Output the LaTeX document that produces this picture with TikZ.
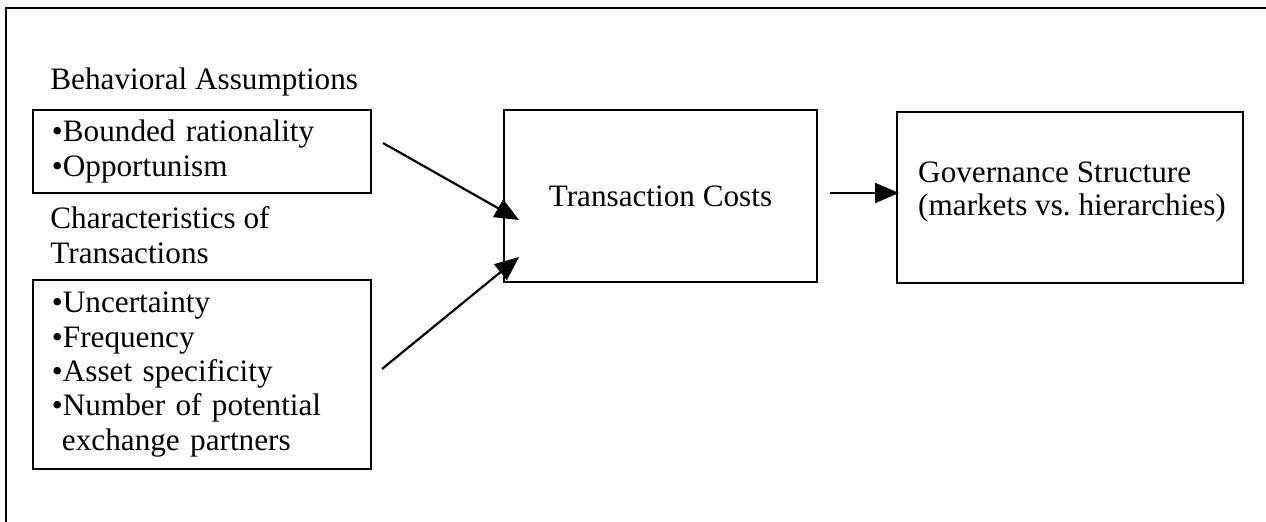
\documentclass[tikz,border=0pt]{standalone}
\usepackage{fontspec}
\setmainfont{Liberation Serif}
\usetikzlibrary{arrows.meta}
\tikzset{
  frame/.style={line width=1pt},
  box/.style={draw, line width=1.25pt, rectangle, inner sep=0pt, font=\fontsize{15.6}{17.2}\selectfont},
  listbox/.style={box, align=left, text width=#1},
  txt/.style={inner sep=0pt, align=left, font=\fontsize{15.6}{17.2}\selectfont},
  heading/.style={txt, anchor=west},
  arr/.style={line width=1.1pt, -{Triangle[length=12pt,width=10pt]}}
}
\begin{document}
\begin{tikzpicture}[x=0.5pt,y=-0.5pt]
  \useasboundingbox (0,0) rectangle (1266,522);
  % outer frame (top and left edges)
  \draw[frame] (1266,8) -- (6,8) -- (6,522);

  % left column: headings and lists
  \node[heading] (hb) at (50,82) {Behavioral Assumptions};
  \node[listbox=150pt, minimum width=169pt, minimum height=41.5pt] (ba) at (202,151.5)
    {•Bounded rationality\\•Opportunism};
  \node[heading] (hc) at (50,235) {Characteristics of\\Transactions};
  \node[listbox=150pt, minimum width=169pt, minimum height=94.5pt] (ct) at (202,374.5)
    {•Uncertainty\\•Frequency\\•Asset specificity\\•Number of potential\\\hspace*{5pt}exchange partners};

  % centre and right boxes
  \node[box, minimum width=156.5pt, minimum height=86pt] (tc) at (660.5,196)
    {\raisebox{-2.5pt}{Transaction Costs}};
  \node[box, minimum width=173pt, minimum height=85.5pt] (gs) at (1070,197.5) {};
  \node[txt, font=\fontsize{15.6}{16.4}\selectfont] (gst) at (1072,192)
    {Governance Structure\\(markets vs.\ hierarchies)};

  % connector end points
  \coordinate (s1) at (383,143);
  \coordinate (e1) at (519,220);
  \coordinate (s2) at (382,369);
  \coordinate (e2) at (519,257);
  \coordinate (s3) at (830,193);
  \coordinate (e3) at (899,193);

  \draw[arr] (s1) -- (e1);
  \draw[arr] (s2) -- (e2);
  \draw[arr] (s3) -- (e3);
\end{tikzpicture}
\end{document}
